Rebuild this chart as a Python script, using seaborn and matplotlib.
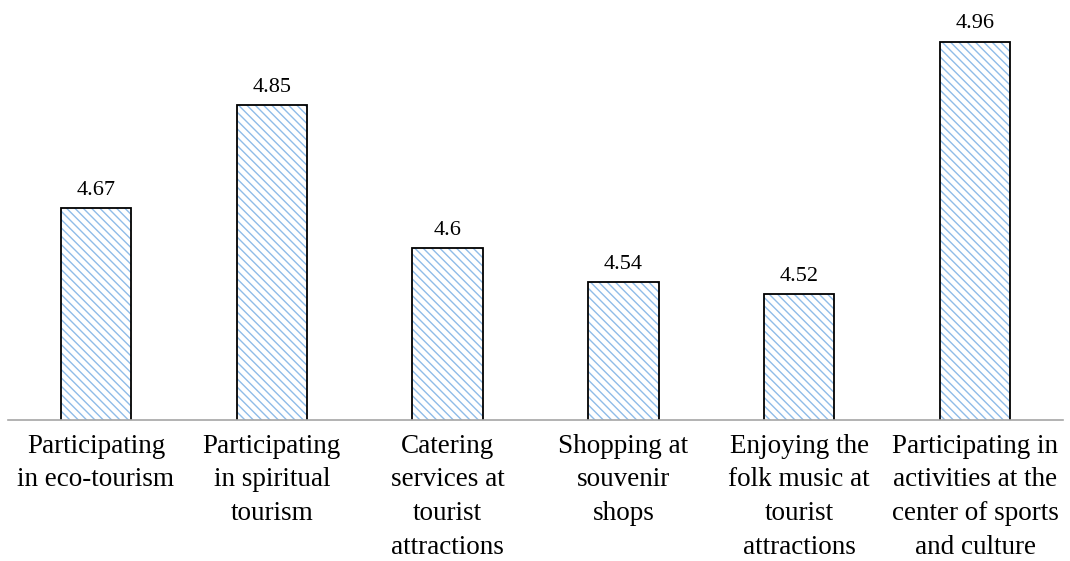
import matplotlib
matplotlib.use("Agg")
import matplotlib.pyplot as plt
import seaborn as sns
import pandas as pd

categories = [
    "Participating\nin eco-tourism",
    "Participating\nin spiritual\ntourism",
    "Catering\nservices at\ntourist\nattractions",
    "Shopping at\nsouvenir\nshops",
    "Enjoying the\nfolk music at\ntourist\nattractions",
    "Participating in\nactivities at the\ncenter of sports\nand culture",
]
values = [4.67, 4.85, 4.60, 4.54, 4.52, 4.96]
value_labels = ["4.67", "4.85", "4.6", "4.54", "4.52", "4.96"]

sns.set_theme(style="white")
plt.rcParams["font.family"] = ["Liberation Serif", "DejaVu Serif"]
plt.rcParams["hatch.linewidth"] = 1.0

df = pd.DataFrame({"cat": categories, "val": values})

fig = plt.figure(figsize=(10.7, 5.61), dpi=100)
ax = fig.add_axes([0.0075, 0.2513, 0.986, 0.7487])

sns.barplot(data=df, x="cat", y="val", ax=ax, color="white", width=0.4,
            hatch="\\" * 4, edgecolor="#8FBCE8", linewidth=0)
sns.barplot(data=df, x="cat", y="val", ax=ax, fill=False, width=0.4,
            edgecolor="black", linewidth=1.3)

ax.set_ylim(4.3, 5.033)
for i, (v, lab) in enumerate(zip(values, value_labels)):
    ax.annotate(lab, (i, v), xytext=(0, 6), textcoords="offset points",
                ha="center", va="bottom", fontsize=16, color="black")

ax.set_xlabel("")
ax.set_ylabel("")
ax.set_yticks([])
ax.tick_params(axis="x", length=0, labelsize=19.5, pad=10, colors="black")
for lab in ax.get_xticklabels():
    lab.set_linespacing(1.45)
for s in ["top", "right", "left"]:
    ax.spines[s].set_visible(False)
ax.spines["bottom"].set_color("#A6A6A6")
ax.spines["bottom"].set_linewidth(1.2)
ax.set_xlim(-0.5, 5.5)

fig.savefig("out.png", dpi=100)
